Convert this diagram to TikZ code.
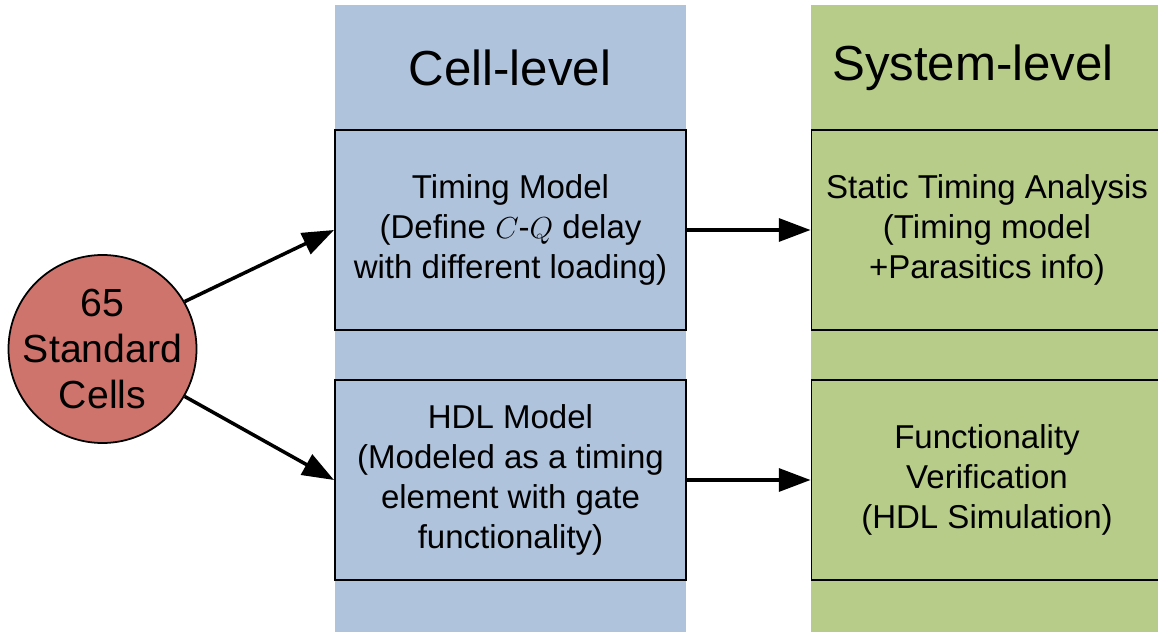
\documentclass[tikz,border=0pt]{standalone}
\usepackage{fontspec}
\setmainfont{Liberation Sans}
\usetikzlibrary{arrows.meta}
\definecolor{cellblue}{HTML}{B0C3DC}
\definecolor{sysgreen}{HTML}{B7CC88}
\definecolor{cellred}{HTML}{CF736D}

\begin{document}
\begin{tikzpicture}[
  stage/.style={
    draw=black,
    line width=1.1pt,
    minimum width=7.02cm,
    minimum height=4cm,
    inner sep=0pt,
    align=center,
    font=\fontsize{18.8}{22.7}\selectfont,
  },
  flow/.style={-{Triangle[length=18pt,width=13pt]}, line width=2pt},
  title/.style={font=\fontsize{28}{34}\selectfont},
  ]
  \useasboundingbox (0,0) rectangle (23.16,12.64);
  % columns
  \fill[cellblue] (6.7,0) rectangle (13.72,12.54);
  \fill[sysgreen] (16.22,0) rectangle (23.26,12.54);
  \node[title] (celltitle) at (10.2,11.28) {Cell-level};
  \node[title] (systitle) at (19.46,11.28) {System-level};
  % boxes
  \node[stage, fill=cellblue] (timing) at (10.21,8.04) {Timing Model\\(Define $C$-$Q$ delay\\with different loading)};
  \node[stage, fill=cellblue] (hdl) at (10.21,3.04) {HDL Model\\(Modeled as a timing\\element with gate\\functionality)};
  \node[stage, fill=sysgreen] (sta) at (19.74,8.04) {Static Timing Analysis\\(Timing model\\+Parasitics info)};
  \node[stage, fill=sysgreen] (func) at (19.74,3.04) {Functionality\\Verification\\(HDL Simulation)};
  \node[circle, draw=black, line width=1pt, fill=cellred, minimum size=3.76cm, inner sep=0pt,
        label={[align=center, font=\fontsize{22.3}{26.4}\selectfont]center:65\\Standard\\Cells}] (cells) at (2.05,5.66) {};
  % arrows
  \draw[flow] (cells.30) -- (timing.west);
  \draw[flow] (cells.-30) -- (hdl.west);
  \draw[flow] (timing.east) -- (sta.west);
  \draw[flow] (hdl.east) -- (func.west);
\end{tikzpicture}
\end{document}
